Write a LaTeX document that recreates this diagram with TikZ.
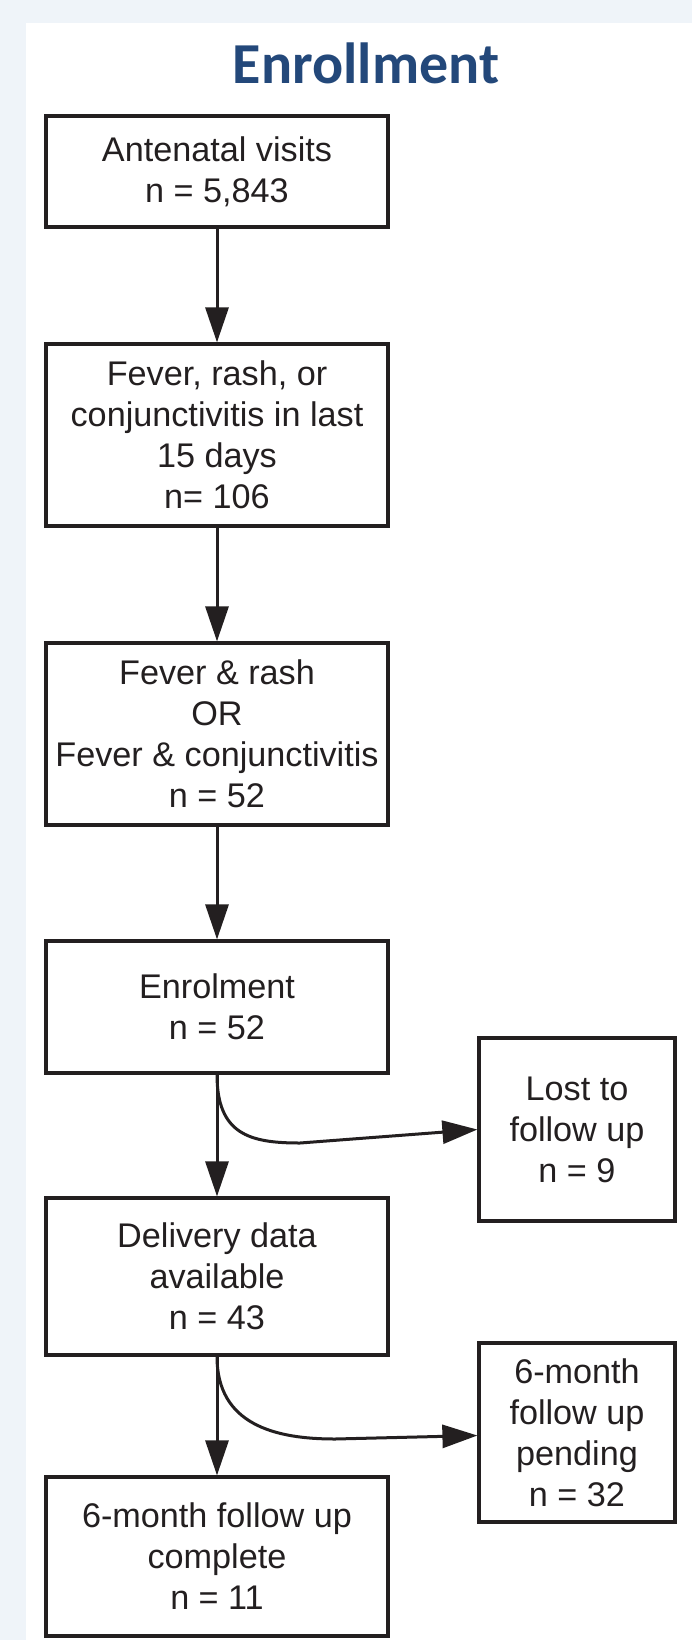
\documentclass[tikz,border=0pt]{standalone}
\usepackage{fontspec}
\setmainfont{Liberation Sans}
\newfontfamily\titlefont{Carlito}
\usetikzlibrary{arrows.meta}
\definecolor{framebg}{HTML}{EFF4F9}
\definecolor{titleblue}{HTML}{23487A}
\definecolor{ink}{HTML}{231F20}
\tikzset{
  stepbox/.style={draw=ink, line width=3.2pt, align=center, inner sep=0pt,
    text=ink, font=\fontsize{34.2}{41}\selectfont},
  mainbox/.style={stepbox, minimum width=342pt},
  sidebox/.style={stepbox, minimum width=196pt},
  arr/.style={draw=ink, line width=3pt, -{Triangle[length=35pt,width=23pt]}},
}
\begin{document}
\begin{tikzpicture}[x=1pt,y=-1pt]
\useasboundingbox (0,0) rectangle (692,1640);
\fill[framebg] (0,0) rectangle (692,1640);
\fill[white] (25.5,23) rectangle (692,1640);
\node[font=\titlefont\bfseries\fontsize{58}{62}\selectfont, text=titleblue, anchor=base] (title) at (366,84) {Enrollment};

\node[mainbox, minimum height=111pt] (b1) at (217,171.5) {Antenatal visits\\n = 5,843};
\node[mainbox, minimum height=182pt] (b2) at (217,435) {Fever, rash, or\\conjunctivitis in last\\15 days\\n= 106};
\node[mainbox, minimum height=182pt] (b3) at (217,734) {Fever \& rash\\OR\\Fever \& conjunctivitis\\n = 52};
\node[mainbox, minimum height=132pt] (b4) at (217,1007) {Enrolment\\n = 52};
\node[sidebox, minimum height=183pt] (b5) at (577,1129.5) {Lost to\\follow up\\n = 9};
\node[mainbox, minimum height=157pt] (b6) at (217,1276.5) {Delivery data\\available\\n = 43};
\node[sidebox, minimum height=179pt] (b7) at (577,1432.5) {6-month\\follow up\\pending\\n = 32};
\node[mainbox, minimum height=159pt] (b8) at (217,1556.5) {6-month follow up\\complete\\n = 11};

\coordinate (c1) at (300,1143);
\coordinate (c2) at (335,1439);

\draw[arr] (b1.south) -- (b2.north);
\draw[arr] (b2.south) -- (b3.north);
\draw[arr] (b3.south) -- (b4.north);
\draw[arr] (b4.south) -- (b6.north);
\draw[arr] (b6.south) -- (b8.north);
\draw[arr] (b4.south) .. controls +(0,60) and +(-50,0) .. (c1) -- (b5.west);
\draw[arr] (b6.south) .. controls +(0,68) and +(-60,0) .. (c2) -- ([yshift=-3pt]b7.west);
\end{tikzpicture}
\end{document}
